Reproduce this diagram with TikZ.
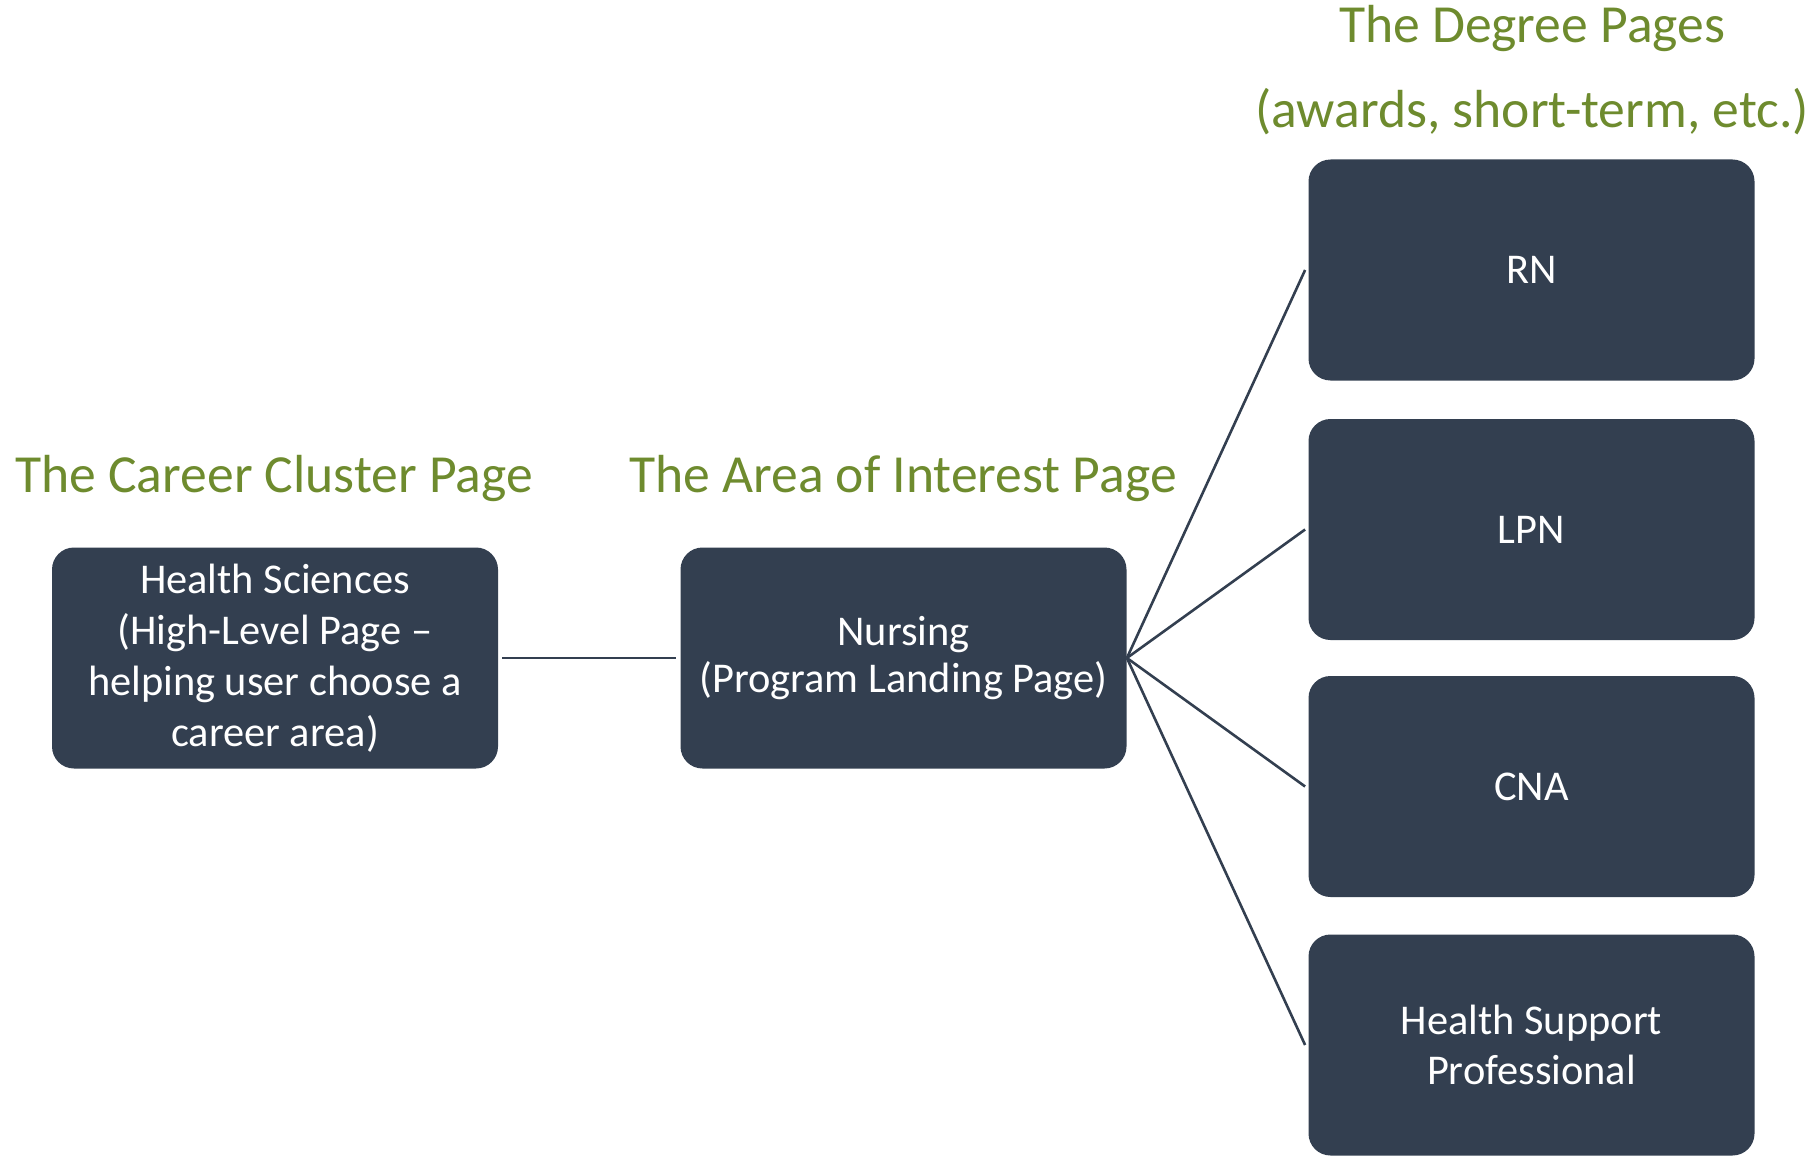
\documentclass[tikz,border=0pt]{standalone}
\usepackage{fontspec}
\setmainfont{Carlito}
\definecolor{boxfill}{HTML}{333F50}
\definecolor{titlegreen}{HTML}{6E8B2E}
\begin{document}
\begin{tikzpicture}[x=0.5pt,y=-0.5pt,
  pagebox/.style={fill=boxfill, draw=none, rounded corners=11pt,
    minimum width=223pt, minimum height=110.5pt, inner sep=0pt,
    text=white, align=center, font=\fontsize{21.2}{25}\selectfont},
  pagetitle/.style={text=titlegreen, anchor=base, inner sep=0pt,
    font=\fontsize{26.8}{42.5}\selectfont, align=center},
  link/.style={draw=boxfill, line width=1.3pt}]
\useasboundingbox (0,0) rectangle (1818,1155);
\node[pagebox, font=\fontsize{21.2}{25.5}\selectfont] (hs) at (275,658) {Health Sciences\\(High-Level Page --\\helping user choose a\\career area)};
\node[pagebox, font=\fontsize{21.2}{23.3}\selectfont] (nur) at (903.5,658) {Nursing\\(Program Landing Page)};
\node[pagebox] (rn) at (1531.5,270) {RN};
\node[pagebox] (lpn) at (1531.5,529.5) {LPN};
\node[pagebox] (cna) at (1531.5,786.5) {CNA};
\node[pagebox] (hsp) at (1531.5,1045) {Health Support\\Professional};
\node[pagetitle] (t1) at (274,492) {The Career Cluster Page};
\node[pagetitle] (t2) at (903,492) {The Area of Interest Page};
\node[pagetitle] (t3) at (1532,128) {The Degree Pages\\(awards, short-term, etc.)};
\draw[link] ([xshift=2pt]hs.east) -- ([xshift=-2pt]nur.west);
\draw[link] (nur.east) -- ([xshift=-1.5pt]rn.west);
\draw[link] (nur.east) -- ([xshift=-1.5pt]lpn.west);
\draw[link] (nur.east) -- ([xshift=-1.5pt]cna.west);
\draw[link] (nur.east) -- ([xshift=-1.5pt]hsp.west);
\end{tikzpicture}
\end{document}
